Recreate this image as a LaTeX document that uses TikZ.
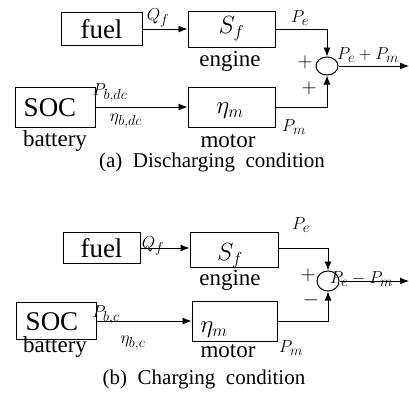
\documentclass[tikz,border=0pt]{standalone}
\usepackage{fontspec}
\setmainfont{Liberation Serif}
\usetikzlibrary{arrows.meta,shapes.geometric}

\begin{document}
\begin{tikzpicture}[x=1pt,y=-1pt,
  blk/.style={draw,rectangle,line width=1pt,inner sep=0pt},
  sumjn/.style={draw,ellipse,line width=1pt,minimum width=22pt,
    minimum height=18pt,inner sep=0pt},
  big/.style={font=\fontsize{27}{29}\selectfont,inner sep=0pt},
  part/.style={font=\fontsize{23}{25}\selectfont,inner sep=0pt},
  sig/.style={font=\fontsize{19}{21}\selectfont,inner sep=0pt},
  sgn/.style={font=\fontsize{22}{24}\selectfont,inner sep=0pt},
  captxt/.style={font=\fontsize{21}{23}\selectfont,inner sep=0pt},
  flow/.style={-{Latex[length=9pt,width=7pt]},line width=.9pt}]
  \useasboundingbox (0,0) rectangle (409,394);

  % (a) discharging
  \node[blk,big,minimum width=81,minimum height=33] (fuelA) at (101.5,29) {fuel};
  \node[blk,big,minimum width=87,minimum height=36] (SfA) at (231.5,29) {$S_f$};
  \node[part] (engA) at (230,61) {engine};
  \node[blk,minimum width=80,minimum height=40] (socA) at (55,107) {};
  \node[big] (socAt) at (50,108) {SOC};
  \node[blk,minimum width=87,minimum height=40] (etaA) at (231.5,107) {};
  \node[big] (etaAt) at (230,111) {$\eta_m$};
  \node[part] (batA) at (55,141) {battery};
  \node[part] (motA) at (228,141) {motor};
  \node[sumjn] (sumA) at (327,66) {};
  \coordinate (outA) at (409,66);

  \node[sig] (qA) at (158,18) {$Q_f$};
  \node[sig] (peA) at (300,18) {$P_e$};
  \node[sig] (pmA) at (294,127) {$P_m$};
  \node[sig] (pbA) at (110,93) {$P_{b,dc}$};
  \node[sig] (nbA) at (126,121) {$\eta_{b,dc}$};
  \node[sig,anchor=west] (sumAl) at (337,55) {$P_e+P_m$};
  \node[sgn] (plA1) at (305,62) {$+$};
  \node[sgn] (plA2) at (309,88) {$+$};
  \node[captxt] (capA) at (212,162) {(a)\ \ Discharging\ \ condition};

  \draw[flow] (fuelA) -- (SfA);
  \draw[flow] (socA) -- (etaA);
  \draw[flow] (SfA.east) -| (sumA.north);
  \draw[flow] (etaA.east) -| (sumA.south);
  \draw[flow] (sumA.east) -- (outA);

  % (b) charging
  \node[blk,big,minimum width=77,minimum height=31] (fuelB) at (101.5,248) {fuel};
  \node[blk,minimum width=88,minimum height=35] (SfB) at (234,249.5) {};
  \node[big] (SfBt) at (230,256) {$S_f$};
  \node[part] (engB) at (230,280) {engine};
  \node[blk,minimum width=80,minimum height=37] (socB) at (56,321) {};
  \node[big] (socBt) at (52,322) {SOC};
  \node[blk,minimum width=85,minimum height=40] (etaB) at (234.5,321) {};
  \node[big] (etaBt) at (214,330) {$\eta_m$};
  \node[part] (batB) at (55,347) {battery};
  \node[part] (motB) at (228,351) {motor};
  \node[sumjn,minimum height=20pt] (sumB) at (328,281) {};
  \coordinate (outB) at (409,281);

  \node[sig] (qB) at (153,246) {$Q_f$};
  \node[sig] (peB) at (301,225) {$P_e$};
  \node[sig] (pmB) at (291,348) {$P_m$};
  \node[sig] (pbB) at (106,315) {$P_{b,c}$};
  \node[sig] (nbB) at (133,343) {$\eta_{b,c}$};
  \node[sig,anchor=west] (sumBl) at (330,279) {$P_e-P_m$};
  \node[sgn] (plB) at (308,275) {$+$};
  \node[sgn] (mnB) at (311,300) {$-$};
  \node[captxt] (capB) at (204,379) {(b)\ \ Charging\ \ condition};

  \draw[flow] (fuelB) -- (SfB.west |- fuelB.east);
  \draw[flow] (socB) -- (etaB);
  \draw[flow] (SfB.east |- fuelB.east) -| (sumB.north);
  \draw[flow] (etaB.east) -| (sumB.south);
  \draw[flow] (sumB.east) -- (outB);
\end{tikzpicture}
\end{document}
